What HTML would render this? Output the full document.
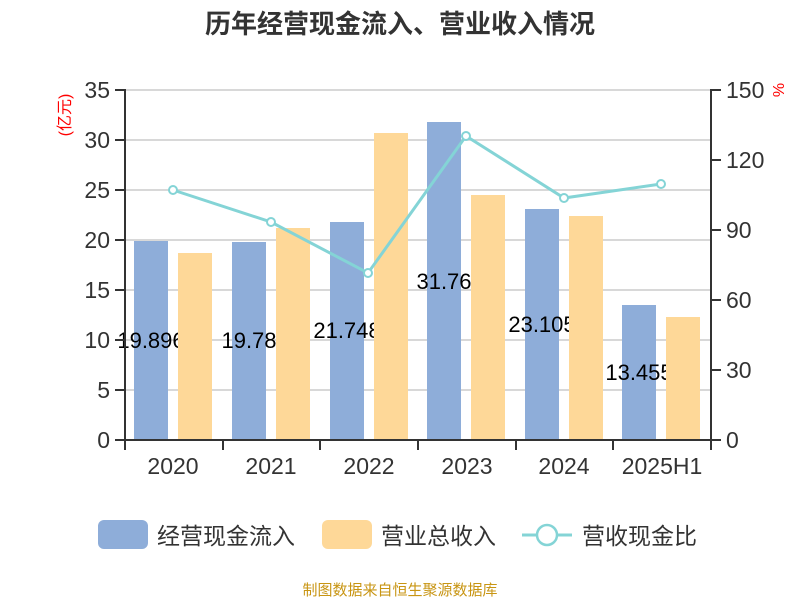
<!DOCTYPE html>
<html><head><meta charset="utf-8"><style>
html,body{margin:0;padding:0;background:#fff;}
svg{display:block;font-family:"Liberation Sans","Noto Sans CJK SC",sans-serif;}
</style></head><body>
<svg width="800" height="600" viewBox="0 0 800 600">
<text x="400" y="33" text-anchor="middle" font-size="26" font-weight="bold" fill="#333">历年经营现金流入、营业收入情况</text>
<g stroke="#ccc" stroke-width="1.5">
<line x1="125" x2="711" y1="90" y2="90"/><line x1="125" x2="711" y1="140" y2="140"/>
<line x1="125" x2="711" y1="190" y2="190"/><line x1="125" x2="711" y1="240" y2="240"/>
<line x1="125" x2="711" y1="290" y2="290"/><line x1="125" x2="711" y1="340" y2="340"/>
<line x1="125" x2="711" y1="390" y2="390"/>
</g>
<g fill="#8eadd9">
<rect x="134" y="241" width="34" height="199"/>
<rect x="232" y="242" width="34" height="198"/>
<rect x="330" y="222" width="34" height="218"/>
<rect x="427" y="122" width="34" height="318"/>
<rect x="525" y="209" width="34" height="231"/>
<rect x="622" y="305" width="34" height="135"/>
</g>
<g font-size="22" fill="#000" text-anchor="middle">
<text x="151" y="348">19.896</text>
<text x="249" y="348">19.78</text>
<text x="347" y="338">21.748</text>
<text x="444" y="289">31.76</text>
<text x="542" y="332">23.105</text>
<text x="639" y="380">13.455</text>
</g>
<g fill="#fed898">
<rect x="178" y="253" width="34" height="187"/>
<rect x="276" y="228" width="34" height="212"/>
<rect x="374" y="133" width="34" height="307"/>
<rect x="471" y="195" width="34" height="245"/>
<rect x="569" y="216" width="34" height="224"/>
<rect x="666" y="317" width="34" height="123"/>
</g>
<g stroke="#333" stroke-width="2" fill="none">
<line x1="125" y1="89" x2="125" y2="441"/>
<line x1="711" y1="89" x2="711" y2="441"/>
<line x1="124" y1="440" x2="712" y2="440"/>
<path d="M115 90h10M115 140h10M115 190h10M115 240h10M115 290h10M115 340h10M115 390h10M115 440h10"/>
<path d="M711 90h10M711 160h10M711 230h10M711 300h10M711 370h10M711 440h10"/>
<path d="M125 440v10M223 440v10M320 440v10M418 440v10M516 440v10M613 440v10M711 440v10"/>
</g>
<g font-size="23" fill="#333" text-anchor="end">
<text x="110" y="98">35</text><text x="110" y="148">30</text><text x="110" y="198">25</text>
<text x="110" y="248">20</text><text x="110" y="298">15</text><text x="110" y="348">10</text>
<text x="110" y="398">5</text><text x="110" y="448">0</text>
</g>
<g font-size="23" fill="#333">
<text x="726" y="98">150</text><text x="726" y="168">120</text><text x="726" y="238">90</text>
<text x="726" y="308">60</text><text x="726" y="378">30</text><text x="726" y="448">0</text>
</g>
<g font-size="23" fill="#333" text-anchor="middle">
<text x="173" y="474">2020</text><text x="271" y="474">2021</text><text x="369" y="474">2022</text>
<text x="467" y="474">2023</text><text x="564" y="474">2024</text><text x="662" y="474">2025H1</text>
</g>
<text transform="translate(70,115) rotate(-90)" font-size="16" fill="#f00" text-anchor="middle">(亿元)</text>
<text transform="translate(784,90) rotate(-90)" font-size="16" fill="#f00" text-anchor="middle">%</text>
<polyline points="173,190 271,222 368,273 466,136 564,198 661,184" fill="none" stroke="#84d4d6" stroke-width="3"/>
<g fill="#fff" stroke="#84d4d6" stroke-width="2">
<circle cx="173" cy="190" r="4"/><circle cx="271" cy="222" r="4"/><circle cx="368" cy="273" r="4"/>
<circle cx="466" cy="136" r="4"/><circle cx="564" cy="198" r="4"/><circle cx="661" cy="184" r="4"/>
</g>
<rect x="98" y="520" width="50" height="29" rx="6" fill="#8eadd9"/>
<text x="157" y="544" font-size="23" fill="#333">经营现金流入</text>
<rect x="322" y="520" width="50" height="29" rx="6" fill="#fed898"/>
<text x="381" y="544" font-size="23" fill="#333">营业总收入</text>
<line x1="522" y1="535" x2="572" y2="535" stroke="#84d4d6" stroke-width="3"/>
<circle cx="547" cy="535" r="10" fill="#fff" stroke="#84d4d6" stroke-width="2.5"/>
<text x="582" y="544" font-size="23" fill="#333">营收现金比</text>
<text x="400" y="595" font-size="15" fill="#c89513" text-anchor="middle">制图数据来自恒生聚源数据库</text>
</svg>
</body></html>
